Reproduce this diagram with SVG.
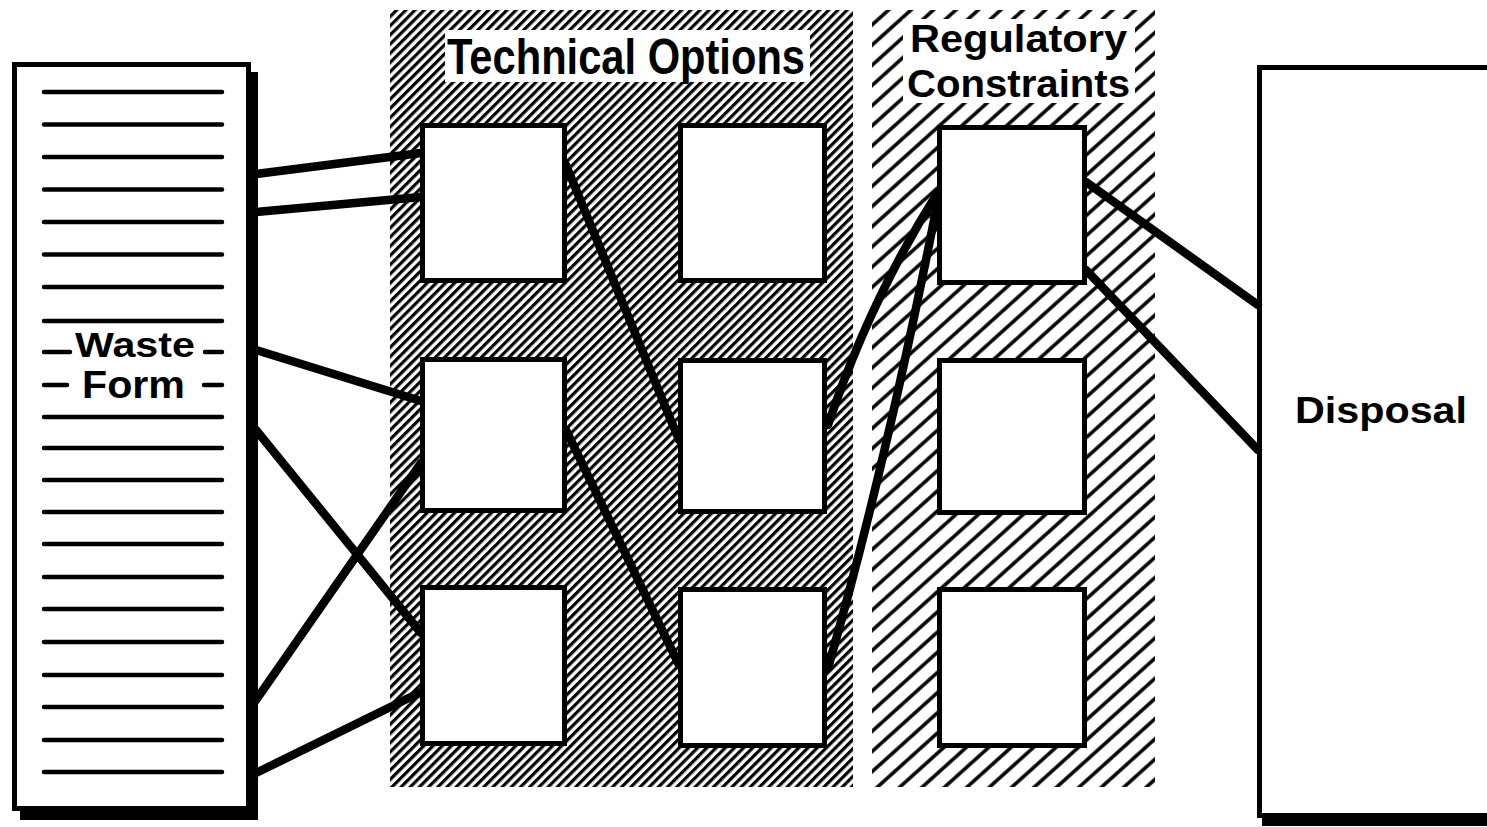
<svg xmlns="http://www.w3.org/2000/svg" width="1487" height="827" viewBox="0 0 1487 827">
<style>
.box{fill:#fff;stroke:#000;stroke-width:5}
.rule{stroke:#000;stroke-width:4.5;stroke-linecap:round}
.conn{fill:none;stroke:#000;stroke-width:8.5;stroke-linecap:round}
.lbl{font-family:"Liberation Sans",Arial,sans-serif;font-weight:bold;fill:#000}
</style>
<defs>
<pattern id="hatchTO" patternUnits="userSpaceOnUse" width="6.5" height="6.5" patternTransform="rotate(45)">
<rect width="6.5" height="6.5" fill="#fff"/>
<line x1="1.6" y1="0" x2="1.6" y2="6.5" stroke="#000" stroke-width="3.2"/>
</pattern>
<pattern id="hatchRC" patternUnits="userSpaceOnUse" width="15" height="15" patternTransform="rotate(48)">
<rect width="15" height="15" fill="#fff"/>
<line x1="2" y1="0" x2="2" y2="15" stroke="#000" stroke-width="3.5"/>
</pattern>
</defs>
<rect width="1487" height="827" fill="#fff"/>

<g id="technical-options">
<rect x="390" y="10" width="463" height="777" fill="url(#hatchTO)"/>
<rect x="445" y="30" width="365" height="52" fill="#fff"/>
<text class="lbl" x="447" y="74" font-size="50" textLength="358" lengthAdjust="spacingAndGlyphs">Technical Options</text>
</g>

<g id="regulatory-constraints">
<rect x="872" y="10" width="283" height="777" fill="url(#hatchRC)"/>
<rect x="903" y="19" width="232" height="84" fill="#fff"/>
<text class="lbl" x="910" y="52" font-size="39" textLength="217" lengthAdjust="spacingAndGlyphs">Regulatory</text>
<text class="lbl" x="907" y="97" font-size="39" textLength="223" lengthAdjust="spacingAndGlyphs">Constraints</text>
</g>

<g id="waste-form">
<rect x="20" y="72" width="238" height="748" fill="#000"/>
<rect class="box" x="14.5" y="64.5" width="234" height="744"/>
<g>
<line class="rule" x1="44" y1="92" x2="222" y2="92"/>
<line class="rule" x1="44" y1="124.5" x2="222" y2="124.5"/>
<line class="rule" x1="44" y1="157" x2="222" y2="157"/>
<line class="rule" x1="44" y1="189.5" x2="222" y2="189.5"/>
<line class="rule" x1="44" y1="222" x2="222" y2="222"/>
<line class="rule" x1="44" y1="254.5" x2="222" y2="254.5"/>
<line class="rule" x1="44" y1="287" x2="222" y2="287"/>
<line class="rule" x1="44" y1="321" x2="222" y2="321"/>
<line class="rule" x1="44" y1="352" x2="70" y2="352"/>
<line class="rule" x1="205" y1="352" x2="222" y2="352"/>
<line class="rule" x1="44" y1="385" x2="67" y2="385"/>
<line class="rule" x1="204" y1="385" x2="222" y2="385"/>
<line class="rule" x1="44" y1="417" x2="222" y2="417"/>
<line class="rule" x1="44" y1="448" x2="222" y2="448"/>
<line class="rule" x1="44" y1="480" x2="222" y2="480"/>
<line class="rule" x1="44" y1="512" x2="222" y2="512"/>
<line class="rule" x1="44" y1="544" x2="222" y2="544"/>
<line class="rule" x1="44" y1="577" x2="222" y2="577"/>
<line class="rule" x1="44" y1="609" x2="222" y2="609"/>
<line class="rule" x1="44" y1="642" x2="222" y2="642"/>
<line class="rule" x1="44" y1="675" x2="222" y2="675"/>
<line class="rule" x1="44" y1="707" x2="222" y2="707"/>
<line class="rule" x1="44" y1="740" x2="222" y2="740"/>
<line class="rule" x1="44" y1="772" x2="222" y2="772"/>
</g>
<text class="lbl" x="75" y="357" font-size="35" textLength="120" lengthAdjust="spacingAndGlyphs">Waste</text>
<text class="lbl" x="82" y="398" font-size="38" textLength="103" lengthAdjust="spacingAndGlyphs">Form</text>
</g>

<g id="disposal">
<rect x="1262" y="75" width="300" height="751" fill="#000"/>
<rect class="box" x="1259.5" y="67.5" width="300" height="748"/>
<text class="lbl" x="1295" y="423" font-size="36" textLength="172" lengthAdjust="spacingAndGlyphs">Disposal</text>
</g>

<g id="connectors">
<line class="conn" x1="256" y1="174" x2="421" y2="153"/>
<line class="conn" x1="256" y1="212" x2="421" y2="197"/>
<line class="conn" x1="256" y1="350" x2="421" y2="401"/>
<line class="conn" x1="256" y1="430" x2="421" y2="633"/>
<line class="conn" x1="256" y1="700" x2="421" y2="463"/>
<line class="conn" x1="256" y1="773" x2="421" y2="692"/>
<line class="conn" x1="566" y1="165" x2="679" y2="440"/>
<line class="conn" x1="566" y1="430" x2="679" y2="665"/>
<path class="conn" d="M828,425 Q870,300 938,192"/>
<path class="conn" d="M828,668 Q885,470 938,200"/>
<line class="conn" x1="1086" y1="182" x2="1258" y2="305"/>
<line class="conn" x1="1086" y1="270" x2="1258" y2="450"/>
</g>

<g id="to-box-1"><rect class="box" x="422.5" y="125.5" width="142" height="155"/></g>
<g id="to-box-2"><rect class="box" x="422.5" y="359.5" width="142" height="151"/></g>
<g id="to-box-3"><rect class="box" x="422.5" y="587.5" width="142" height="156"/></g>
<g id="to-box-4"><rect class="box" x="680.5" y="125.5" width="144" height="155"/></g>
<g id="to-box-5"><rect class="box" x="680.5" y="360.5" width="144" height="151"/></g>
<g id="to-box-6"><rect class="box" x="680.5" y="589.5" width="144" height="156"/></g>
<g id="rc-box-1"><rect class="box" x="939.5" y="127.5" width="145" height="155"/></g>
<g id="rc-box-2"><rect class="box" x="939.5" y="360.5" width="145" height="152"/></g>
<g id="rc-box-3"><rect class="box" x="939.5" y="589.5" width="145" height="156"/></g>
</svg>
